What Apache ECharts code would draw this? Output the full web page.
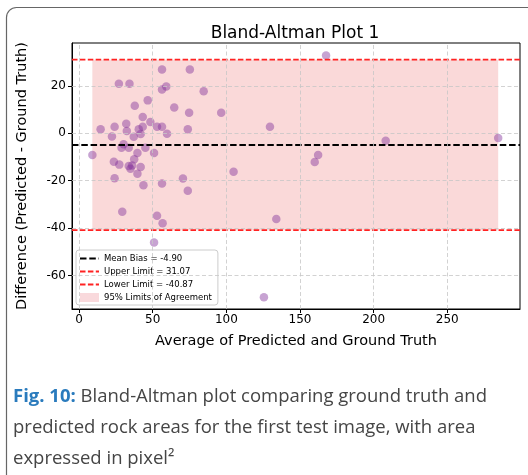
<!DOCTYPE html>
<html>
<head>
<meta charset="utf-8">
<script src="https://cdn.jsdelivr.net/npm/echarts@6/dist/echarts.min.js"></script>
<style>
html,body{margin:0;padding:0;background:#fff;}
#chart{width:528px;height:475px;}
</style>
</head>
<body>
<div id="chart"></div>
<script>
// ---- data ----
const AVG_VALUES = [56.3, 75.2, 27.0, 34.2, 56.3, 59.2, 84.6, 46.6, 37.8, 64.6,
  74.7, 96.5, 43.2, 32.0, 48.4, 43.2, 40.5, 14.6, 24.1, 32.4,
  52.9, 56.3, 73.8, 22.3, 37.1, 41.8, 59.7, 30.2, 28.8, 33.7,
  45.0, 39.6, 50.9, 9.0, 23.6, 27.3, 37.4, 33.7, 34.9, 36.0,
  41.8, 39.6, 24.1, 43.7, 56.3, 70.5, 73.8, 104.9, 29.3, 52.9,
  56.7, 50.9, 167.7, 129.6, 208.2, 284.6, 162.3, 160.0, 133.9, 125.5];
const DIFF_VALUES = [26.9, 26.9, 20.9, 20.9, 18.5, 19.8, 17.7, 13.9, 11.6, 10.9,
  8.7, 8.7, 6.9, 4.0, 4.8, 2.8, 1.7, 1.7, 2.8, 1.0,
  2.8, 2.8, 1.7, -1.3, -1.4, -0.3, -0.2, -4.6, -6.1, -6.1,
  -6.1, -8.3, -8.3, -9.1, -12.0, -13.2, -10.9, -13.8, -14.9, -13.6,
  -14.2, -17.1, -18.9, -21.9, -21.2, -19.1, -24.2, -16.2, -33.1, -34.8,
  -37.9, -46.1, 32.8, 2.8, -3.1, -2.0, -9.1, -12.1, -36.1, -69.1];
const MEAN_BIAS = -4.90;
const UPPER_LIMIT = 31.07;
const LOWER_LIMIT = -40.87;
const X_TICKS = [0, 50, 100, 150, 200, 250];
const Y_TICKS = [-60, -40, -20, 0, 20];
const X_RANGE = [-4.83, 299.4];
const Y_RANGE = [-74.1, 38.1];

const NAME_MEAN = 'Mean Bias = ' + MEAN_BIAS.toFixed(2);
const NAME_UP = 'Upper Limit = ' + UPPER_LIMIT.toFixed(2);
const NAME_LOW = 'Lower Limit = ' + LOWER_LIMIT.toFixed(2);
const NAME_FILL = '95% Limits of Agreement';

const points = AVG_VALUES.map((x, i) => [x, DIFF_VALUES[i]]);
const xMinData = Math.min(...AVG_VALUES);
const xMaxData = Math.max(...AVG_VALUES);

const FONT = 'DejaVu Sans';
const chart = echarts.init(document.getElementById('chart'), null, {renderer: 'canvas'});

function hline(name, v, color, width, dash, z) {
  return {
    name: name, type: 'line', symbol: 'none', z: z,
    data: [[X_RANGE[0], v], [X_RANGE[1], v]],
    lineStyle: {color: color, width: width, type: dash},
    itemStyle: {color: color},
    silent: true, animation: false
  };
}

const option = {
  animation: false,
  backgroundColor: '#fff',
  title: {
    text: 'Bland-Altman Plot 1',
    left: 290, top: 20, textAlign: 'center',
    textStyle: {fontFamily: FONT, fontSize: 17, fontWeight: 'normal', color: '#000'}
  },
  grid: {left: 72, top: 43, width: 448, height: 266, show: true, borderColor: '#000', borderWidth: 1, backgroundColor: 'transparent'},
  xAxis: {
    type: 'value', min: X_RANGE[0], max: X_RANGE[1],
    name: 'Average of Predicted and Ground Truth', nameLocation: 'middle', nameGap: 25,
    nameTextStyle: {fontFamily: FONT, fontSize: 14.5, color: '#000'},
    axisLine: {show: true, onZero: false, lineStyle: {color: '#000', width: 1}},
    axisTick: {show: true, length: 4, customValues: X_TICKS, lineStyle: {color: '#000'}},
    axisLabel: {customValues: X_TICKS, fontFamily: FONT, fontSize: 12, color: '#000', margin: 5},
    splitLine: {show: false}
  },
  yAxis: {
    type: 'value', min: Y_RANGE[0], max: Y_RANGE[1],
    name: 'Difference (Predicted - Ground Truth)', nameLocation: 'middle', nameGap: 42,
    nameTextStyle: {fontFamily: FONT, fontSize: 14.5, color: '#000'},
    axisLine: {show: true, onZero: false, lineStyle: {color: '#000', width: 1}},
    axisTick: {show: true, length: 4, customValues: Y_TICKS, lineStyle: {color: '#000'}},
    axisLabel: {customValues: Y_TICKS, fontFamily: FONT, fontSize: 12, color: '#000', margin: 6},
    splitLine: {show: false}
  },
  legend: {
    orient: 'vertical', left: 76, top: 250,
    itemWidth: 19, itemHeight: 9, itemGap: 4,
    padding: [4, 6, 3, 3],
    backgroundColor: 'rgba(255,255,255,0.85)', borderColor: '#cccccc', borderWidth: 1, borderRadius: 3,
    textStyle: {fontFamily: FONT, fontSize: 8.5, color: '#000'},
    data: [
      {name: NAME_MEAN, itemStyle: {opacity: 0}},
      {name: NAME_UP, itemStyle: {opacity: 0}},
      {name: NAME_LOW, itemStyle: {opacity: 0}},
      {name: NAME_FILL, icon: 'rect'}
    ]
  },
  graphic: [
    {type: 'rect', shape: {x: 6.5, y: 7.5, width: 560, height: 520, r: 10},
     style: {fill: 'none', stroke: '#666', lineWidth: 1.2}, z: 100, silent: true},
    {type: 'text', left: 13, top: 381, z: 100, silent: true,
     style: {
       text: '{b|Fig. 10:} Bland-Altman plot comparing ground truth and\npredicted rock areas for the first test image, with area\nexpressed in pixel²',
       fontFamily: 'Open Sans', fontSize: 18.5, lineHeight: 31, fill: '#454545',
       rich: {b: {fontFamily: 'Open Sans', fontSize: 18.5, fontWeight: 'bold', fill: '#2a7bbd', lineHeight: 31}}
     }}
  ],
  series: [
    {
      name: NAME_FILL, type: 'line', data: [], z: 1,
      itemStyle: {color: '#f9d9dc'},
      markArea: {
        silent: true,
        itemStyle: {color: 'rgba(240,128,128,0.3)'},
        data: [[{coord: [xMinData, LOWER_LIMIT]}, {coord: [xMaxData, UPPER_LIMIT]}]]
      }
    },
    {
      name: 'grid', type: 'line', data: [], z: 2,
      markLine: {
        silent: true, symbol: ['none', 'none'], label: {show: false},
        lineStyle: {color: '#c6c6c6', type: [4, 2.5], width: 0.8},
        data: X_TICKS.map(v => ({xAxis: v})).concat(Y_TICKS.map(v => ({yAxis: v})))
      }
    },
    {
      name: 'points', type: 'scatter', data: points, z: 3,
      symbolSize: 8.5,
      itemStyle: {color: 'rgba(128,45,152,0.55)'}
    },
    hline(NAME_MEAN, MEAN_BIAS, '#000', 2, [6.5, 2.8], 4),
    hline(NAME_UP, UPPER_LIMIT, '#f22', 1.7, [5.5, 2.4], 4),
    hline(NAME_LOW, LOWER_LIMIT, '#f22', 1.7, [5.5, 2.4], 4)
  ]
};
chart.setOption(option);
</script>
</body>
</html>
